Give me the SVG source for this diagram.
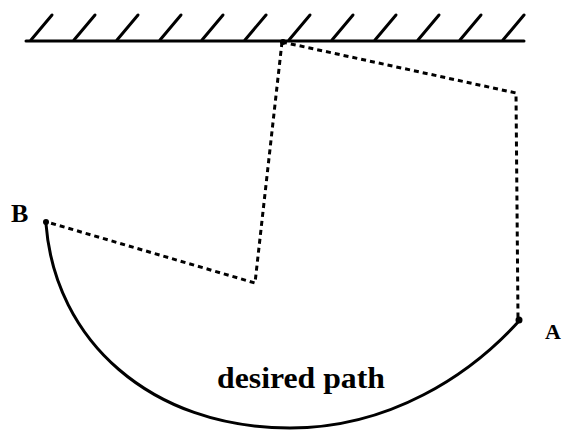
<svg xmlns="http://www.w3.org/2000/svg" width="565" height="431" viewBox="0 0 565 431">
<style>
.dash{fill:none;stroke:#000;stroke-width:3;stroke-dasharray:5 4;stroke-linecap:butt}
.solid{fill:none;stroke:#000;stroke-width:3;stroke-linecap:round}
.lbl{font-family:"Liberation Serif","Times New Roman",serif;font-weight:bold;fill:#000}
</style>
<rect width="565" height="431" fill="#fff"/>
<g id="ground">
<line x1="26" y1="41" x2="524" y2="41" class="solid"/>
<g class="solid">
<path d="M31,40 L52,15"/><path d="M74,40 L95,15"/><path d="M117,40 L138,15"/><path d="M160,40 L181,15"/><path d="M202,40 L223,15"/><path d="M245,40 L266,15"/><path d="M289,40 L310,15"/><path d="M332,40 L353,15"/><path d="M375,40 L396,15"/><path d="M418,40 L439,15"/><path d="M460,40 L481,15"/><path d="M503,40 L524,15"/>
</g>
</g>
<g id="connectors">
<path class="dash" d="M282,42 L255,283 L47,222"/>
<path class="dash" d="M282,42 L516,93 L518,318"/>
<path class="solid" d="M46,224 C55,340 150,428 290,428 C390,428 470,375 519,321"/>
</g>
<g id="pointB">
<circle cx="46" cy="222" r="3" fill="#000"/>
<text class="lbl" x="11" y="222" font-size="26">B</text>
</g>
<g id="pointA">
<circle cx="519" cy="320" r="3.5" fill="#000"/>
<text class="lbl" x="545" y="339" font-size="22">A</text>
</g>
<g id="pivot">
<circle cx="283" cy="42" r="3" fill="#000"/>
</g>
<text class="lbl" x="217" y="388" font-size="30" textLength="168" lengthAdjust="spacingAndGlyphs">desired path</text>
</svg>
